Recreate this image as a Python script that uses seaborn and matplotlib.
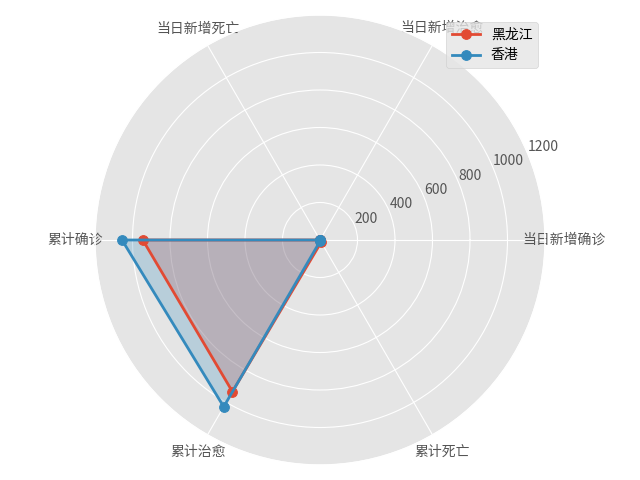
import numpy as np
import pandas as pd
import matplotlib
matplotlib.use("Agg")
import matplotlib.pyplot as plt
import seaborn as sns

categories = ["当日新增确诊", "当日新增治愈", "当日新增死亡", "累计确诊", "累计治愈", "累计死亡"]
heilongjiang = [0, 0, 0, 945, 934, 13]
hongkong = [0, 0, 0, 1056, 1027, 4]
series_names = ["黑龙江", "香港"]
colors = ["#E24A33", "#348ABD"]
r_ticks = [200, 400, 600, 800, 1000, 1200]

plt.style.use("ggplot")
plt.rcParams["font.family"] = ["Noto Sans CJK SC", "DejaVu Sans"]
plt.rcParams["axes.unicode_minus"] = False

n = len(categories)
angles = np.linspace(0, 2 * np.pi, n, endpoint=False)
angles_closed = np.concatenate([angles, angles[:1]])

fig = plt.figure(figsize=(6.4, 4.8), dpi=100)
ax = fig.add_axes([95 / 640, 15 / 480, 450 / 640, 450 / 480], polar=True)

for name, vals, c in zip(series_names, [heilongjiang, hongkong], colors):
    v = np.concatenate([vals, vals[:1]])
    df = pd.DataFrame({"theta": angles_closed, "r": v})
    sns.lineplot(data=df, x="theta", y="r", ax=ax, sort=False, color=c,
                 linewidth=2, marker="o", markersize=7, markeredgecolor=c,
                 label=name)
    ax.fill(angles_closed, v, color=c, alpha=0.25)

ax.set_thetagrids(np.degrees(angles), categories, fontsize=10)
ax.set_ylim(0, 1200)
ax.set_rgrids(r_ticks, [str(t) for t in r_ticks], fontsize=10)
ax.set_xlabel("")
ax.set_ylabel("")
ax.legend(loc="upper right", fontsize=10)

fig.savefig("out.png", dpi=100)
